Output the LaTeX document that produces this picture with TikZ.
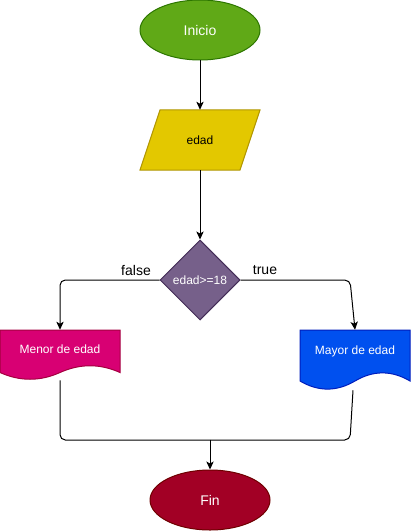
\documentclass[tikz,border=0pt]{standalone}
\usepackage{fontspec}
\setmainfont{Liberation Sans}
\usetikzlibrary{shapes.geometric,arrows.meta}
\definecolor{greenfill}{HTML}{60A917}
\definecolor{greenline}{HTML}{2D7600}
\definecolor{yellowfill}{HTML}{E3C800}
\definecolor{yellowline}{HTML}{B09500}
\definecolor{purplefill}{HTML}{76608A}
\definecolor{purpleline}{HTML}{432D57}
\definecolor{pinkfill}{HTML}{D80073}
\definecolor{pinkline}{HTML}{A50040}
\definecolor{bluefill}{HTML}{0050EF}
\definecolor{blueline}{HTML}{001DBC}
\definecolor{redfill}{HTML}{A20025}
\definecolor{redline}{HTML}{6F0000}
\begin{document}
\begin{tikzpicture}%
	[x=0.75pt,
	y=-0.75pt,
	line/.style={line width=0.75pt, color=black},
	edge/.style={line, -{Stealth[length=6pt,width=5.5pt,inset=1.5pt]}},
	terminal/.style={ellipse, line width=0.75pt, minimum width=90pt, minimum height=45pt, inner sep=0pt, text=white, font=\fontsize{10.5}{12}\selectfont},
	iofacet/.style={line width=0.75pt, draw=yellowline, fill=yellowfill},
	iobox/.style={rectangle, minimum width=90pt, minimum height=45pt, inner sep=0pt, font=\fontsize{9}{11}\selectfont},
	decision/.style={diamond, minimum width=60pt, minimum height=60pt, inner sep=0pt, line width=0.75pt, draw=purpleline, fill=purplefill, text=white, font=\fontsize{9}{11}\selectfont},
	docbox/.style={rectangle, inner sep=0pt},
	doctext/.style={text=white, inner sep=0pt, font=\fontsize{9}{11}\selectfont},
	menordoc/.style={line width=0.75pt, draw=pinkline, fill=pinkfill},
	mayordoc/.style={line width=0.75pt, draw=blueline, fill=bluefill},
	edgelabel/.style={inner sep=0pt, font=\fontsize{10.5}{12}\selectfont}]
%
\useasboundingbox (0,0) rectangle (411,531);
%%
%% Drawing the shapes
%%
\node[terminal, draw=greenline, fill=greenfill] (inicio) at (200,30) {Inicio};
%
\filldraw[iofacet] (160,110) -- (260,110) -- (240,170) -- (140,170) -- cycle;
\node[iobox] (edad) at (200,140) {edad};
%
\node[decision] (cond) at (200,280) {edad>=18};
%
\filldraw[menordoc] (0,330) -- (120,330) -- (120,372.5) .. controls (100,363.5) and (80,363.5) .. (60,372.5) .. controls (40,381.5) and (20,381.5) .. (0,372.5) -- cycle;
\node[docbox, minimum width=90pt, minimum height=37.5pt] (menor) at (60,355) {};
\node[doctext] (menortext) at (60,349) {Menor de edad};
%
\filldraw[mayordoc] (300,330) -- (410,330) -- (410,381) .. controls (391.67,370.2) and (373.33,370.2) .. (355,381) .. controls (336.67,391.8) and (318.33,391.8) .. (300,381) -- cycle;
\node[docbox, minimum width=82.5pt, minimum height=45pt] (mayor) at (355,360) {};
\node[doctext] (mayortext) at (355,351) {Mayor de edad};
%
\node[terminal, draw=redline, fill=redfill] (fin) at (210,500) {Fin};
%%
%% Drawing the edges
%%
\coordinate (truebend) at (350,280);
\coordinate (mayorbend) at (350,440);
\coordinate (join) at (210,440);
\draw[edge] (inicio.south) -- (edad.north);
\draw[edge] (edad.south) -- (cond.north);
\draw[edge, rounded corners=4pt] (cond.west) -| (menor.north);
\draw[edge, rounded corners=4pt] (cond.east) -- (truebend) -- (mayor.north);
\draw[line, rounded corners=4pt] (menor.south) |- (join);
\draw[line, rounded corners=4pt] ([xshift=-1.5pt]mayor.south) -- (mayorbend) -- (join);
\draw[edge] (join) -- (fin.north);
%%
\node[edgelabel] (falselabel) at (136,270) {false};
\node[edgelabel] (truelabel) at (265,270) {true};
\end{tikzpicture}
\end{document}
